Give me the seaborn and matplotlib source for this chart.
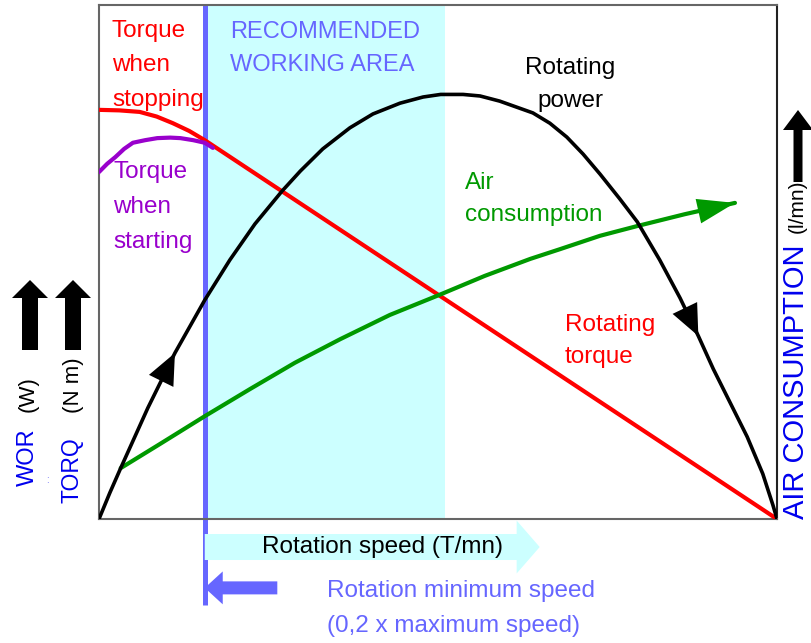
import numpy as np
import seaborn as sns
import matplotlib.pyplot as plt
from matplotlib.patches import FancyArrow
from matplotlib.transforms import blended_transform_factory

sns.set_style("white")
plt.rcParams["font.family"] = ["Liberation Sans", "DejaVu Sans"]

# Rotation speed in % of the maximum speed, curves in % of the chart height
speed_min = 15.6          # rotation minimum speed line
work_area = (15.6, 51.0)  # recommended working area

power_speed = [0.0, 1.6, 3.2, 7.2, 11.2, 15.6, 19.3, 23.0, 27.0, 29.7, 33.0, 37.0,
               40.4, 44.4, 47.8, 50.4, 53.7, 56.2, 59.1, 64.0, 66.5, 69.0, 71.4,
               73.9, 76.8, 79.4, 82.7, 85.7, 88.4, 90.6, 93.1, 95.6, 97.9, 99.4, 100.0]
power = [0.0, 5.1, 9.9, 21.6, 32.3, 42.6, 50.4, 57.4, 63.8, 67.7, 72.0, 76.1,
         78.8, 80.9, 82.1, 82.6, 82.6, 82.3, 81.3, 79.0, 77.0, 74.3, 71.0,
         67.1, 62.3, 57.8, 50.4, 43.0, 35.6, 29.2, 22.6, 16.0, 8.8, 2.7, 0.0]

torque_stop_speed = [0.0, 3.0, 6.0, 8.5, 10.9, 13.3, 15.6, 100.0]
torque_stop = [79.6, 79.5, 79.2, 78.3, 77.0, 75.5, 73.7, 0.0]

torque_start_speed = [0.0, 1.2, 2.4, 3.7, 5.0, 6.8, 8.6, 10.5, 12.0, 13.9, 15.6, 16.8]
torque_start = [67.5, 69.1, 70.4, 72.0, 73.2, 73.7, 74.1, 74.2, 74.1, 73.7, 73.2, 72.2]

air_speed = [3.2, 9.0, 15.6, 22.3, 28.9, 35.6, 42.9, 50.2, 56.9, 63.6, 68.0,
             73.9, 79.4, 86.4, 93.8]
air = [9.9, 14.6, 20.0, 25.3, 30.4, 35.0, 39.7, 43.6, 47.3, 50.6, 52.5,
       55.1, 57.0, 59.3, 61.5]

RED = "#ff0000"
BLACK = "#000000"
GREEN = "#009900"
PURPLE = "#9900cc"
LBLUE = "#6666ff"
BLUE = "#0000ee"
CYAN = "#ccffff"
FS = 17.5
LS2 = 1.62   # two-line labels
LS3 = 1.74   # three-line labels

fig = plt.figure(figsize=(8.11, 6.43), dpi=100)
ax = fig.add_axes([99 / 811, 124 / 643, 678 / 811, 514 / 643])

ax.axvspan(*work_area, color=CYAN, lw=0, zorder=0)

trans = blended_transform_factory(ax.transData, ax.transAxes)
ax.plot([speed_min, speed_min], [-0.167, 1.0], transform=trans, clip_on=False,
        color=LBLUE, lw=3.6, zorder=1, solid_capstyle="butt")

curve_kw = dict(ax=ax, sort=False, estimator=None, legend=False)
sns.lineplot(x=torque_stop_speed, y=torque_stop, color=RED, lw=3.0, zorder=3, **curve_kw)
sns.lineplot(x=torque_start_speed, y=torque_start, color=PURPLE, lw=3.0, zorder=3, **curve_kw)
sns.lineplot(x=air_speed, y=air, color=GREEN, lw=3.0, zorder=3, **curve_kw)
sns.lineplot(x=power_speed, y=power, color=BLACK, lw=2.6, zorder=4, **curve_kw)


def head(xs, ys, x_tip, x_back, color, scale, hl, hw, z):
    tip = (x_tip, float(np.interp(x_tip, xs, ys)))
    back = (x_back, float(np.interp(x_back, xs, ys)))
    ax.annotate("", xy=tip, xytext=back, zorder=z,
                arrowprops=dict(arrowstyle=f"-|>,head_length={hl},head_width={hw}",
                                mutation_scale=scale, color=color, lw=0,
                                shrinkA=0, shrinkB=0))


# direction arrows on the power curve (rising and falling branches)
peak = int(np.argmax(power))
head(power_speed[:peak + 1], power[:peak + 1], 11.2, 9.8, BLACK, 28, 0.8, 0.35, 5)
head(power_speed[peak:], power[peak:], 88.4, 87.2, BLACK, 28, 0.8, 0.35, 5)
# air consumption arrow
head(air_speed, air, air_speed[-1], 90.0, GREEN, 30, 0.9, 0.3, 5)

# curve labels
ax.text(1.9, 88.3, "Torque\nwhen\nstopping", color=RED, fontsize=FS,
        ha="left", va="center", linespacing=LS3, zorder=6)
ax.text(19.3, 91.5, "RECOMMENDED\nWORKING AREA", color=LBLUE, fontsize=17,
        ha="left", va="center", linespacing=LS2, zorder=6)
ax.text(69.5, 84.5, "Rotating\npower", color=BLACK, fontsize=FS,
        ha="center", va="center", linespacing=LS2, zorder=6)
ax.text(2.1, 60.7, "Torque\nwhen\nstarting", color=PURPLE, fontsize=FS,
        ha="left", va="center", linespacing=LS3, zorder=6)
ax.text(54.0, 62.3, "Air\nconsumption", color=GREEN, fontsize=FS,
        ha="left", va="center", linespacing=LS2, zorder=6)
ax.text(68.7, 34.6, "Rotating\ntorque", color=RED, fontsize=FS,
        ha="left", va="center", linespacing=LS2, zorder=6)

# rotation speed axis arrow and minimum speed marker under the chart
ax.add_patch(FancyArrow(speed_min, -0.0545, 65.0 - speed_min, 0, width=0.0506,
                        head_width=0.103, head_length=3.4, length_includes_head=True,
                        transform=trans, clip_on=False, color=CYAN, lw=0, zorder=1))
ax.text(24.0, -0.0545, "Rotation speed (T/mn)", transform=trans, color=BLACK,
        fontsize=FS, ha="left", va="center", clip_on=False)
ax.add_patch(FancyArrow(26.3, -0.134, speed_min - 26.3, 0, width=0.0253,
                        head_width=0.064, head_length=2.65, length_includes_head=True,
                        transform=trans, clip_on=False, color=LBLUE, lw=0, zorder=2))
ax.text(33.6, -0.174, "Rotation minimum speed\n(0,2 x maximum speed)", transform=trans,
        color=LBLUE, fontsize=FS, ha="left", va="center", linespacing=LS3,
        clip_on=False)

ax.set_xlim(0, 100)
ax.set_ylim(0, 100)
ax.set_xticks([])
ax.set_yticks([])
ax.set_xlabel("")
ax.set_ylabel("")
for side, sp in ax.spines.items():
    sp.set_visible(True)
    sp.set_color("#666666" if side in ("top", "left", "bottom") else "#222222")
    sp.set_linewidth(1.5)


# side axis titles with upward arrows
def fx(px):
    return px / 811


def fy(py):
    return 1 - py / 643


def up_arrow(xc, y_base, y_tip, w, hw, hl):
    fig.add_artist(FancyArrow(fx(xc), fy(y_base), 0, fy(y_tip) - fy(y_base),
                              width=w / 811, head_width=hw / 811, head_length=hl / 643,
                              length_includes_head=True, transform=fig.transFigure,
                              color=BLACK, lw=0))


up_arrow(30, 350, 280, 16, 36, 18)
up_arrow(73, 350, 280, 16, 36, 18)
up_arrow(798, 182, 110, 9, 30, 20)

fig.text(fx(28), fy(394), "(W)", rotation=90, color=BLACK, fontsize=16, ha="center", va="center")
fig.text(fx(28), fy(457), "WOR", rotation=90, color=BLUE, fontsize=17, ha="center", va="center")
fig.text(fx(47), fy(480), ":", color=BLUE, fontsize=7, ha="center", va="center", alpha=0.6)
fig.text(fx(73), fy(385), "(N m)", rotation=90, color=BLACK, fontsize=16, ha="center", va="center")
fig.text(fx(72), fy(470), "TORQ", rotation=90, color=BLUE, fontsize=16.5, ha="center", va="center")
fig.text(fx(797), fy(206), "(l/mn)", rotation=90, color=BLACK, fontsize=15, ha="center", va="center")
fig.text(fx(796), fy(382), "AIR CONSUMPTION", rotation=90, color=BLUE, fontsize=21,
         ha="center", va="center")

fig.savefig("out.png", dpi=100, facecolor="white")
